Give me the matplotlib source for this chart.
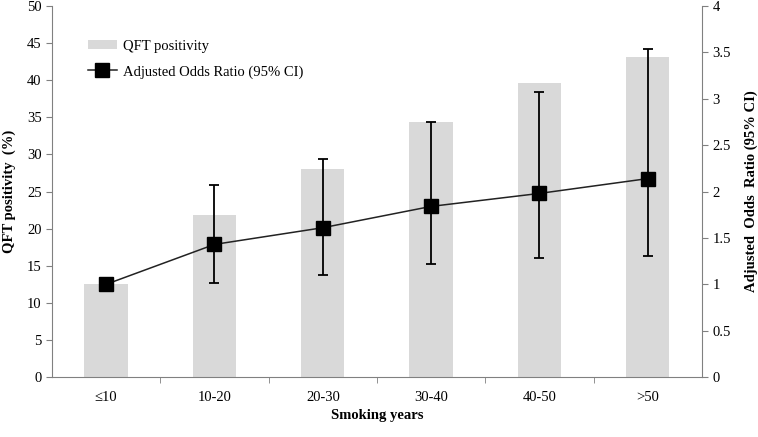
import numpy as np
import matplotlib.pyplot as plt

plt.rcParams['font.family'] = ['Liberation Serif', 'DejaVu Serif']

# data
groups = ['≤10', '10-20', '20-30', '30-40', '40-50', '>50']
qft_pos = [12.5, 21.8, 28.0, 34.4, 39.6, 43.1]
odds = [1.0, 1.43, 1.61, 1.84, 1.98, 2.14]
ci_low = [np.nan, 1.01, 1.10, 1.22, 1.28, 1.30]
ci_high = [np.nan, 2.07, 2.35, 2.75, 3.07, 3.54]

axcol = '#808080'

fig = plt.figure(figsize=(7.58, 4.37), dpi=100)
ax = fig.add_axes([0.0686, 0.1373, 0.8575, 0.8487])
x = np.arange(len(groups))

bars = ax.bar(x, qft_pos, width=0.4, color='#d9d9d9', label='QFT positivity', zorder=1)
ax.set_xlim(-0.5, len(groups) - 0.5)
ax.set_ylim(0, 50)
ax.set_yticks(range(0, 51, 5))
ax.set_xticks(x)
ax.set_xticklabels(groups)
ax.set_xticks(np.arange(0.5, len(groups) - 0.5, 1), minor=True)
ax.tick_params(axis='x', which='major', length=0, pad=10, labelsize=10.5)
ax.tick_params(axis='x', which='minor', length=4, color=axcol, direction='out')
ax.tick_params(axis='y', length=4, color=axcol, labelsize=10.5)
ax.set_ylabel('QFT positivity  (%)', fontweight='bold', fontsize=10.5, labelpad=8)
ax.set_xlabel('Smoking years', fontweight='bold', fontsize=10.5, labelpad=4)
for s in ['top', 'right']:
    ax.spines[s].set_visible(False)
for s in ['left', 'bottom']:
    ax.spines[s].set_color(axcol)

ax2 = ax.twinx()
ax2.set_ylim(0, 4)
ax2.set_yticks(np.arange(0, 4.01, 0.5))
ax2.set_yticklabels(['0', '0.5', '1', '1.5', '2', '2.5', '3', '3.5', '4'])
ax2.tick_params(axis='y', length=4, color=axcol, labelsize=10.5)
for s in ['top', 'left', 'bottom']:
    ax2.spines[s].set_visible(False)
ax2.spines['right'].set_color(axcol)
ax2.set_ylabel('Adjusted  Odds  Ratio (95% CI)', fontweight='bold', fontsize=10.5, labelpad=10)

o = np.array(odds)
lo = np.array(ci_low)
hi = np.array(ci_high)
m = ~np.isnan(lo)
ax2.errorbar(x[m], o[m], yerr=[o[m] - lo[m], hi[m] - o[m]], fmt='none',
             ecolor='black', elinewidth=1.3, capsize=3.5, capthick=1.3, zorder=2)
line, = ax2.plot(x, odds, color='#222222', lw=1.1, marker='s', markersize=10,
                 markerfacecolor='black', markeredgecolor='black',
                 label='Adjusted Odds Ratio (95% CI)', zorder=3)

ax2.legend([bars, line], ['QFT positivity', 'Adjusted Odds Ratio (95% CI)'],
           loc='upper left', bbox_to_anchor=(0.035, 0.945), frameon=False,
           fontsize=10.5, handlelength=2.0, handletextpad=0.4, labelspacing=0.85,
           handleheight=0.6)

fig.savefig('out.png', dpi=100)
